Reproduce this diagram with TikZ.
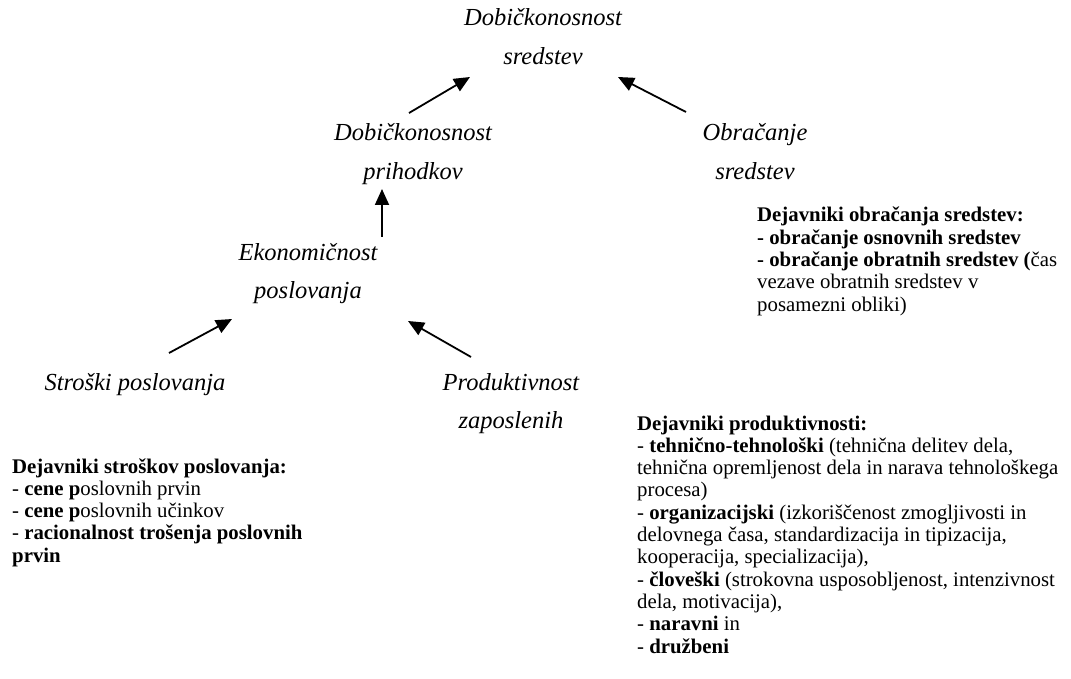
\documentclass[tikz,border=0pt]{standalone}
\usepackage{fontspec}
\setmainfont{Liberation Serif}
\usetikzlibrary{arrows.meta}
\tikzset{
  scr/.style={inner sep=0pt, anchor=base, font=\fontsize{24.5}{38.5}\selectfont\itshape},
  blk/.style={inner sep=0pt, anchor=base west, font=\fontsize{20.8}{22.3}\selectfont},
  arr/.style={line width=1.8pt, -{Triangle[length=16pt,width=14pt]}}
}
\newcommand{\ctext}[1]{\parbox[t]{260pt}{\centering #1}}
\newcommand{\ltext}[1]{\parbox[t]{440pt}{\raggedright #1}}
\begin{document}
\begin{tikzpicture}[x=1pt,y=-1pt]
\useasboundingbox (0,0) rectangle (1071,679);
% script nodes
\node[scr] (A) at (543,26) {\ctext{Dobičkonosnost\\sredstev}};
\node[scr] (B) at (413,141) {\ctext{Dobičkonosnost\\prihodkov}};
\node[scr] (C) at (755,141) {\ctext{Obračanje\\sredstev}};
\node[scr] (D) at (308,260) {\ctext{Ekonomičnost\\poslovanja}};
\node[scr] (E) at (135,390) {\ctext{Stroški poslovanja}};
\node[scr] (F) at (511,390) {\ctext{Produktivnost\\zaposlenih}};
% connector end points
\coordinate (b1) at (409,113); \coordinate (a1) at (470,77);
\coordinate (c1) at (686,112); \coordinate (a2) at (618,77);
\coordinate (d1) at (382,237); \coordinate (b2) at (382,189);
\coordinate (e1) at (169,353); \coordinate (d2) at (232,319);
\coordinate (f1) at (471,357); \coordinate (d3) at (408,321);
\draw[arr] (b1) -- (a1);
\draw[arr] (c1) -- (a2);
\draw[arr] (d1) -- (b2);
\draw[arr] (e1) -- (d2);
\draw[arr] (f1) -- (d3);
% text blocks
\node[blk] (T1) at (757,222) {\ltext{\textbf{Dejavniki obračanja sredstev:}\\
\textbf{- obračanje osnovnih sredstev}\\
\textbf{- obračanje obratnih sredstev (}čas\\
vezave obratnih sredstev v\\
posamezni obliki)}};
\node[blk] (T2) at (12,473) {\ltext{\textbf{Dejavniki stroškov poslovanja:}\\
- \textbf{cene p}oslovnih prvin\\
- \textbf{cene p}oslovnih učinkov\\
- \textbf{racionalnost trošenja poslovnih}\\
\textbf{prvin}}};
\node[blk] (T3) at (637,430) {\ltext{\textbf{Dejavniki produktivnosti:}\\
- \textbf{tehnično-tehnološki} (tehnična delitev dela,\\
tehnična opremljenost dela in narava tehnološkega\\
procesa)\\
- \textbf{organizacijski} (izkoriščenost zmogljivosti in\\
delovnega časa, standardizacija in tipizacija,\\
kooperacija, specializacija),\\
- \textbf{človeški} (strokovna usposobljenost, intenzivnost\\
dela, motivacija),\\
- \textbf{naravni} in\\
- \textbf{družbeni}}};
\end{tikzpicture}
\end{document}
